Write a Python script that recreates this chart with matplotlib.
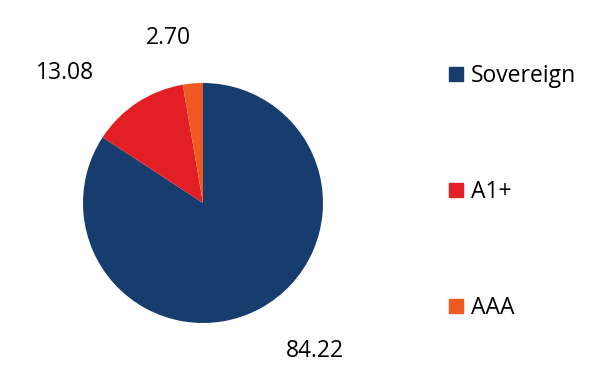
import matplotlib.pyplot as plt
from matplotlib.lines import Line2D

plt.rcParams['font.family'] = ['Open Sans', 'DejaVu Sans']

categories = ['Sovereign', 'A1+', 'AAA']
values = [84.22, 13.08, 2.70]
colors = ['#173d6f', '#e31f26', '#ef5a23']

# label positions (data coords, pie radius = 1)
label_pos = [(0.93, -1.23), (-1.15, 1.08), (-0.29, 1.375)]

fig = plt.figure(figsize=(5.94, 3.85), dpi=100)
ax = fig.add_axes([83 / 594, 62 / 385, 240 / 594, 240 / 385])
ax.pie(values, colors=colors, startangle=90, counterclock=False,
       radius=1, wedgeprops={'linewidth': 0})
ax.set_xlim(-1, 1)
ax.set_ylim(-1, 1)

for v, (x, y) in zip(values, label_pos):
    ax.text(x, y, f'{v:.2f}', ha='center', va='center', fontsize=16.5,
            color='black', clip_on=False)

handles = [Line2D([], [], linestyle='none', marker='s', markersize=10,
                  markerfacecolor=c, markeredgecolor=c) for c in colors]
fig.legend(handles, categories, loc='center left',
           bbox_to_anchor=(438 / 594, 1 - 192 / 385), frameon=False,
           fontsize=16.5, labelspacing=4.0, handlelength=0.6,
           handletextpad=0.35, borderpad=0)

fig.savefig('out.png', dpi=100, facecolor='white')
